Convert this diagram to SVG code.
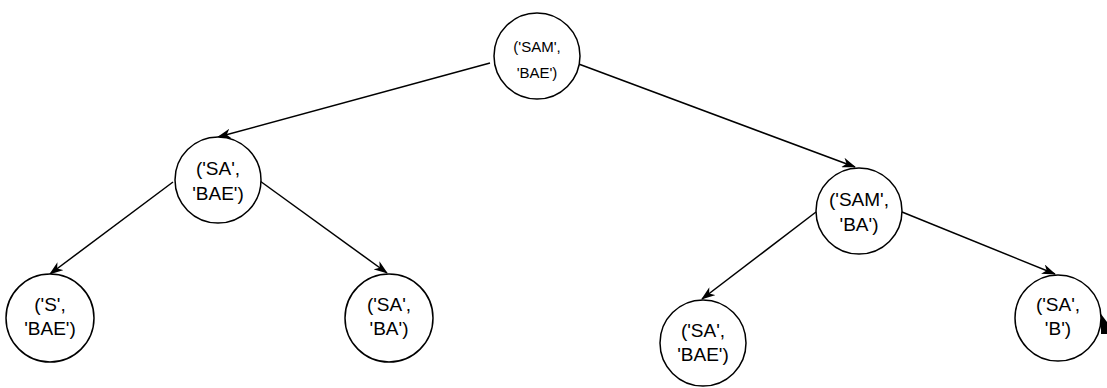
<svg xmlns="http://www.w3.org/2000/svg" width="1107" height="388" viewBox="0 0 1107 388">
<style>
.node circle{fill:#fff;stroke:#000;stroke-width:1.5}
.node text{font-family:"Liberation Sans",Arial,sans-serif;font-size:19px;fill:#000;text-anchor:middle}
.node.small text{font-size:15px}
.edges line{stroke:#000;stroke-width:1.5;marker-end:url(#arr)}
</style>
<defs>
<marker id="arr" markerUnits="userSpaceOnUse" markerWidth="14" markerHeight="10" viewBox="0 0 14 10" refX="13" refY="5" orient="auto">
<path d="M0,0 L14,5 L0,10 L4,5 z" fill="#000"/>
</marker>
</defs>
<rect width="1107" height="388" fill="#fff"/>
<g class="edges">
<line x1="490" y1="63" x2="218" y2="137"/>
<line x1="576" y1="63" x2="855" y2="167"/>
<line x1="173" y1="182" x2="50" y2="274"/>
<line x1="260" y1="181" x2="387" y2="273"/>
<line x1="816" y1="212" x2="702" y2="299"/>
<line x1="902" y1="212" x2="1055" y2="274"/>
</g>
<g id="n_root" class="node small"><circle cx="537" cy="56" r="43"/><text x="537" y="52">('SAM',</text><text x="537" y="78">'BAE')</text></g>
<g id="n_sa_bae" class="node"><circle cx="218" cy="180" r="43"/><text x="218" y="175">('SA',</text><text x="218" y="200">'BAE')</text></g>
<g id="n_sam_ba" class="node"><circle cx="859" cy="211" r="43"/><text x="859" y="206">('SAM',</text><text x="859" y="231">'BA')</text></g>
<g id="n_s_bae" class="node"><circle cx="50" cy="318" r="44"/><text x="50" y="311">('S',</text><text x="50" y="335">'BAE')</text></g>
<g id="n_sa_ba" class="node"><circle cx="389" cy="318" r="44"/><text x="389" y="311">('SA',</text><text x="389" y="335">'BA')</text></g>
<g id="n_sa_bae2" class="node"><circle cx="703" cy="343" r="43"/><text x="703" y="337">('SA',</text><text x="703" y="361">'BAE')</text></g>
<g id="n_sa_b" class="node"><circle cx="1058" cy="318" r="43"/><text x="1058" y="311">('SA',</text><text x="1058" y="335">'B')</text></g>
<path d="M1101,314 L1107,322 L1107,334 L1101,334 z" fill="#000"/>
</svg>
